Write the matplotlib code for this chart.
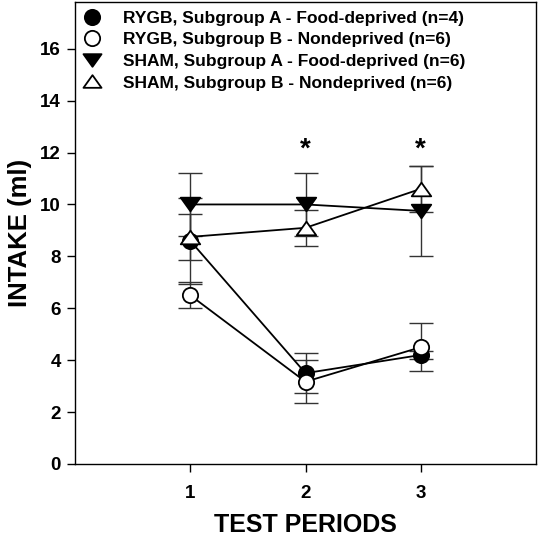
import matplotlib
matplotlib.use("Agg")
import matplotlib.pyplot as plt
from matplotlib.path import Path
from matplotlib.lines import Line2D

plt.rcParams['font.family'] = ['Liberation Sans', 'DejaVu Sans']
plt.rcParams['font.weight'] = 'bold'

periods = [1, 2, 3]
rygb_a = [8.6, 3.5, 4.2]
rygb_a_err = [1.65, 0.78, 0.15]
rygb_b = [6.5, 3.17, 4.5]
rygb_b_err = [0.5, 0.83, 0.92]
sham_a = [10.0, 10.0, 9.75]
sham_a_err = [1.2, 1.2, 1.75]
sham_b = [8.75, 9.1, 10.6]
sham_b_err = [0.9, 0.7, 0.9]
labels = ["RYGB, Subgroup A - Food-deprived (n=4)",
          "RYGB, Subgroup B - Nondeprived (n=6)",
          "SHAM, Subgroup A - Food-deprived (n=6)",
          "SHAM, Subgroup B - Nondeprived (n=6)"]
star_periods = [2, 3]
star_y = 12.1

tri_down = Path([(-1, 0.7), (1, 0.7), (0, -0.7), (-1, 0.7)],
                [Path.MOVETO, Path.LINETO, Path.LINETO, Path.CLOSEPOLY])
tri_up = Path([(-1, -0.7), (1, -0.7), (0, 0.7), (-1, -0.7)],
              [Path.MOVETO, Path.LINETO, Path.LINETO, Path.CLOSEPOLY])

fig = plt.figure(figsize=(5.38, 5.36), dpi=100)
ax = fig.add_axes([75/538, 72/536, 461/538, 462/536])

series = [
    (rygb_a, rygb_a_err, 'o', 'black', 11),
    (rygb_b, rygb_b_err, 'o', 'white', 11),
    (sham_a, sham_a_err, tri_down, 'black', 14),
    (sham_b, sham_b_err, tri_up, 'white', 14),
]
handles = []
for (vals, errs, mk, fc, ms), lab in zip(series, labels):
    ax.errorbar(periods, vals, yerr=errs, fmt='none', ecolor='#333333',
                elinewidth=1.0, capsize=8.5, capthick=1.0, zorder=2)
    ax.plot(periods, vals, color='black', lw=1.3, marker=mk, ms=ms,
            mfc=fc, mec='black', mew=1.3, zorder=3)
    handles.append(Line2D([], [], ls='none', marker=mk,
                          ms=ms if mk == 'o' else 13,
                          mfc=fc, mec='black', mew=1.3))

for sp in star_periods:
    ax.text(sp, star_y, '*', ha='center', va='center', fontsize=20,
            fontweight='bold')

ax.set_xlim(0, 4)
ax.set_ylim(0, 17.8)
ax.set_xticks(periods)
ax.set_yticks(range(0, 17, 2))
ax.tick_params(direction='out', length=6, width=1, labelsize=13.5, pad=4)
ax.tick_params(axis='x', pad=9)
for s in ax.spines.values():
    s.set_linewidth(1.0)

ax.set_xlabel('TEST PERIODS', fontsize=18, fontweight='bold', labelpad=8)
ax.set_ylabel('INTAKE (ml)', fontsize=18.5, fontweight='bold', labelpad=6)

leg = ax.legend(handles, labels, loc='upper left', frameon=False,
                handlelength=1.0, handletextpad=1.27,
                labelspacing=0.37, borderaxespad=0.1, borderpad=0.4,
                prop={'weight': 'bold', 'size': 12.5})

fig.savefig('out.png', dpi=100)
